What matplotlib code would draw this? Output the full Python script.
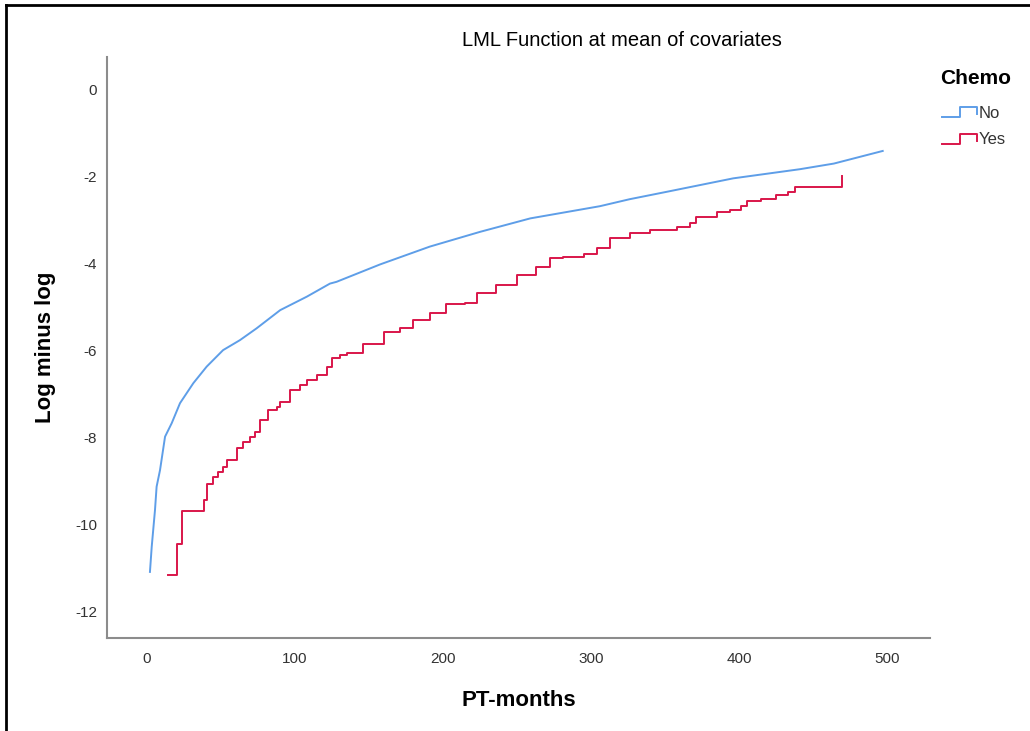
import matplotlib
matplotlib.use('Agg')
import matplotlib.pyplot as plt
from matplotlib.lines import Line2D

plt.rcParams['font.family'] = ['Liberation Sans', 'DejaVu Sans']
plt.rcParams['axes.unicode_minus'] = False

# log minus log curves, Chemo = No
no_months = [2, 3.2, 5.4, 6.5, 8.8, 12.2, 16.7, 22.3, 31.3, 40.3, 51.4, 62.8, 74, 90,
             108, 123.6, 128, 157.4, 191, 225, 259, 292.6, 306, 326, 351, 396, 441,
             464, 497]
no_lml = [-11.1, -10.52, -9.68, -9.14, -8.76, -7.99, -7.68, -7.22, -6.76, -6.38, -6.0,
          -5.77, -5.5, -5.08, -4.77, -4.47, -4.43, -4.03, -3.62, -3.28, -2.97, -2.77,
          -2.69, -2.53, -2.36, -2.05, -1.84, -1.71, -1.42]

# Chemo = Yes (step function)
yes_months = [14.4, 20, 23.4, 38.5, 40.3, 44.9, 48.2, 51.6, 54.3, 60.6, 64.6, 69.6, 73,
              76.4, 82, 87.6, 89.9, 96.6, 103.4, 108, 114.7, 121.4, 124.8, 130.4, 135,
              146, 160, 171, 180, 191, 202, 215, 223, 236, 250, 263, 272, 281, 295, 304,
              313, 326, 340, 358, 367, 371, 385, 394, 401, 405, 415, 425, 433, 438, 469.4]
yes_lml = [-11.16, -10.45, -9.69, -9.45, -9.07, -8.91, -8.8, -8.68, -8.53, -8.26, -8.11,
           -7.99, -7.88, -7.61, -7.38, -7.3, -7.19, -6.92, -6.8, -6.69, -6.57, -6.38,
           -6.19, -6.11, -6.07, -5.85, -5.58, -5.5, -5.31, -5.15, -4.94, -4.92, -4.69,
           -4.5, -4.28, -4.08, -3.89, -3.85, -3.78, -3.66, -3.43, -3.31, -3.24, -3.17,
           -3.08, -2.95, -2.82, -2.78, -2.69, -2.57, -2.53, -2.44, -2.36, -2.25, -1.99]

x_ticks = [0, 100, 200, 300, 400, 500]
y_ticks = [0, -2, -4, -6, -8, -10, -12]

c_no = '#5e9ee8'
c_yes = '#d9164a'

fig = plt.figure(figsize=(10.30, 7.31), dpi=100)
ax = fig.add_axes([0.1039, 0.1272, 0.7991, 0.7948])

ax.plot(no_months, no_lml, color=c_no, lw=1.4)
ax.plot(yes_months, yes_lml, color=c_yes, lw=1.4, drawstyle='steps-post')

ax.set_xlim(-27, 529)
ax.set_ylim(-12.62, 0.74)
ax.set_xticks(x_ticks)
ax.set_yticks(y_ticks)
ax.tick_params(length=0, labelsize=11, labelcolor='#333333')
ax.tick_params(axis='y', pad=7)
ax.tick_params(axis='x', pad=10)
for s in ['top', 'right']:
    ax.spines[s].set_visible(False)
for s in ['left', 'bottom']:
    ax.spines[s].set_color('#8c8c8c')
    ax.spines[s].set_linewidth(1.5)

ax.set_xlabel('PT-months', fontsize=16, fontweight='bold', labelpad=17)
ax.set_ylabel('Log minus log', fontsize=16, fontweight='bold', labelpad=14)
fig.text(622 / 1030, 1 - 40 / 731, 'LML Function at mean of covariates',
         ha='center', va='center', fontsize=14.5)

# legend
fig.text(940 / 1030, 1 - 78 / 731, 'Chemo', ha='left', va='center',
         fontsize=15, fontweight='bold')
for i, (lab, c) in enumerate([('No', c_no), ('Yes', c_yes)]):
    yb = 117 + i * 27
    xs = [942, 960, 960, 977, 977]
    ys = [yb, yb, yb - 10, yb - 10, yb - 3]
    fig.add_artist(Line2D([v / 1030 for v in xs], [1 - v / 731 for v in ys],
                          color=c, lw=1.4, transform=fig.transFigure))
    fig.text(979 / 1030, 1 - (yb - 4) / 731, lab, ha='left', va='center',
             fontsize=12, color='#333333')

# outer frame
fig.add_artist(Line2D([6 / 1030, 1], [1 - 5 / 731, 1 - 5 / 731], color='black',
                      lw=2, transform=fig.transFigure))
fig.add_artist(Line2D([6 / 1030, 6 / 1030], [0, 1 - 5 / 731], color='black',
                      lw=2, transform=fig.transFigure))

fig.savefig('out.png', dpi=100)
